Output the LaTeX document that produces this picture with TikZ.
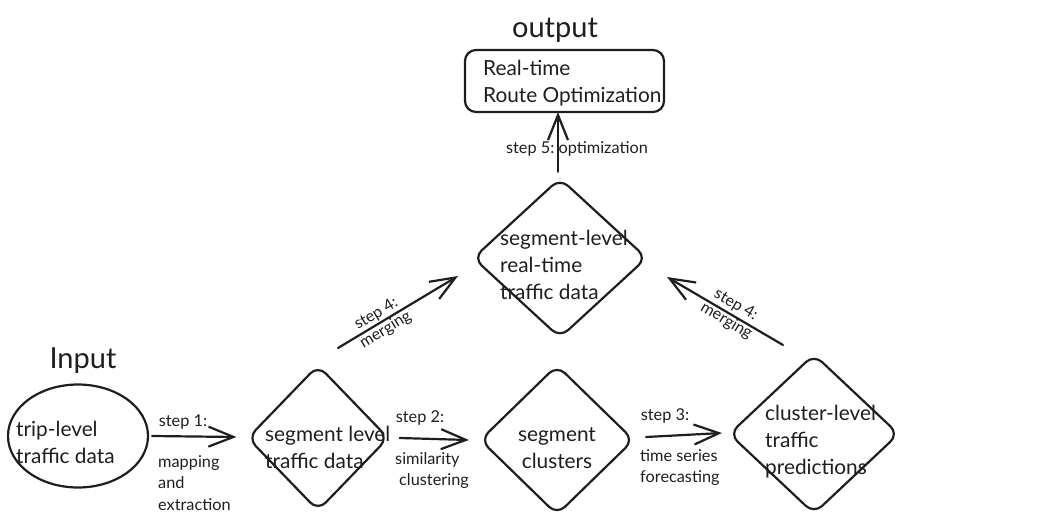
\documentclass[tikz,border=0pt]{standalone}
\usepackage{fontspec}
\setmainfont{Lato}
\usetikzlibrary{arrows.meta,shapes.geometric}
\definecolor{ink}{HTML}{1E1E1E}
\tikzset{
  shp/.style={draw=ink, line width=2.2pt},
  dia/.style={shp, diamond, inner sep=0pt, rounded corners=11pt},
  big/.style={font=\fontsize{20.8}{27}\selectfont, text=ink, inner sep=0pt},
  small/.style={font=\fontsize{16.3}{21.5}\selectfont, text=ink, inner sep=0pt},
  rsmall/.style={font=\fontsize{16}{18.5}\selectfont, text=ink, inner sep=0pt},
  head/.style={font=\fontsize{29}{30}\selectfont, text=ink, inner sep=0pt},
  arr/.style={draw=ink, line width=2.2pt, line cap=round, -{Straight Barb[length=25pt,width=20pt,line width=2.2pt]}},
}
\begin{document}
\begin{tikzpicture}[x=1pt,y=-1pt]
\useasboundingbox (0,0) rectangle (1047,530);
% headings
\node[head] (inlbl) at (83,361) {Input};
\node[head] (outlbl) at (555,30) {output};
% shapes
\node[shp, ellipse, inner sep=0pt, minimum width=140pt, minimum height=103pt] (trip) at (78,436) {};
\node[dia, minimum width=141pt, minimum height=146pt] (seg) at (318,438) {};
\node[dia, minimum width=154pt, minimum height=150pt] (clu) at (557,440) {};
\node[dia, minimum width=170pt, minimum height=160pt] (pred) at (814,434) {};
\node[dia, minimum width=174pt, minimum height=160pt] (rt) at (560,258) {};
\node[shp, rectangle, rounded corners=11pt, minimum width=199pt, minimum height=62pt] (opt) at (564.5,81) {};
% texts
\node[big, anchor=west, align=left] (triptxt) at (16,442) {trip-level\\traffic data};
\node[big, anchor=west, align=left] (segtxt) at (265,447) {segment level\\traffic data};
\node[big, align=center] (clutxt) at (557,448) {segment\\clusters};
\node[big, anchor=west, align=left] (predtxt) at (765,442) {cluster-level\\traffic\\predictions};
\node[big, anchor=west, align=left] (rttxt) at (500,265) {segment-level\\real-time\\traffic data};
\node[big, anchor=west, align=left] (opttxt) at (483,83) {Real-time\\Route Optimization};
% connectors
\draw[arr] ([xshift=3pt]trip.east) -- ([xshift=-10pt,yshift=1pt]seg.west);
\draw[arr] ([xshift=10pt]seg.east) -- ([xshift=-10pt]clu.west);
\draw[arr] ([xshift=11pt,yshift=3pt]clu.east) -- ([xshift=-6pt,yshift=1pt]pred.west);
\draw[arr] ([xshift=-2pt,yshift=5pt]rt.north) -- ([xshift=-6.5pt,yshift=1pt]opt.south);
\coordinate (l1) at (338,348);
\coordinate (l2) at (458,276);
\coordinate (r1) at (783,345);
\coordinate (r2) at (667,277);
\draw[arr] (l1) -- (l2);
\draw[arr] (r1) -- (r2);
% labels
\node[small] (s1) at (183,422) {step 1:};
\node[small, anchor=north west, align=left] (s1b) at (158,455) {mapping\\and\\extraction};
\node[small] (s2) at (420,418) {step 2:};
\node[small, anchor=north west, align=left] (s2b) at (395,452) {similarity\\\hspace{4pt}clustering};
\node[small] (s3) at (665,416) {step 3:};
\node[small, anchor=north west, align=left] (s3b) at (640,449) {time series\\forecasting};
\node[small] (s5) at (577,149) {step 5:\ optimization};
\node[rsmall, align=center, rotate=31] (s4l) at (381,322) {step 4:\\merging};
\node[rsmall, align=center, rotate=-30.4] (s4r) at (731,313) {step 4:\\merging};
\end{tikzpicture}
\end{document}
